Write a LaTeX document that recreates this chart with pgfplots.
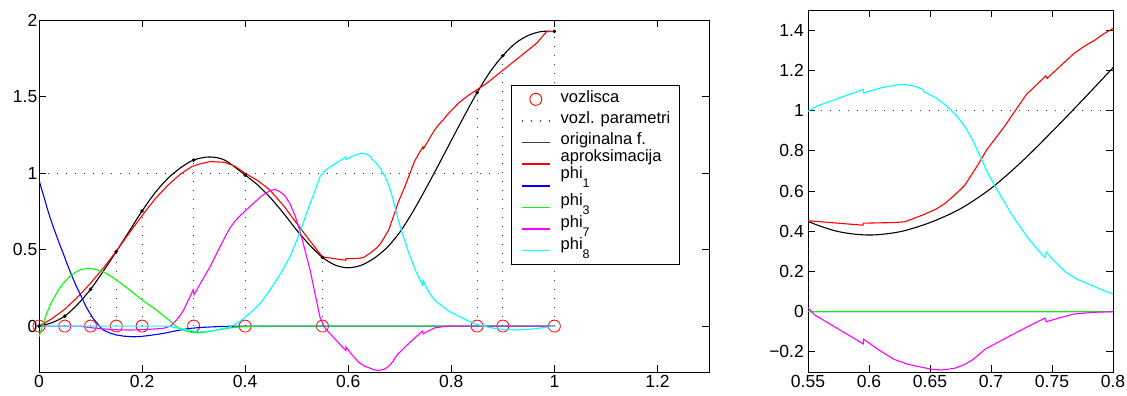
\documentclass[border=0pt]{standalone}
\usepackage{fontspec}
\setmainfont{Liberation Sans}
\usepackage{pgfplots}
\pgfplotsset{compat=1.18}
\usepackage{pgfplotstable}

\definecolor{mred}{rgb}{1,0,0}
\definecolor{mblue}{rgb}{0,0,1}
\definecolor{mgreen}{rgb}{0,1,0}
\definecolor{mmag}{rgb}{1,0,1}
\definecolor{mcyan}{rgb}{0,1,1}

\pgfplotstableread{
x y
0 0
0.025 0.022
0.05 0.065
0.075 0.142
0.1 0.24
0.125 0.36
0.15 0.487
0.175 0.62
0.2 0.752
0.225 0.87
0.25 0.965
0.275 1.035
0.3 1.085
0.33 1.105
0.36 1.085
0.4 0.987
0.425 0.92
0.45 0.835
0.475 0.735
0.5 0.627
0.525 0.53
0.55 0.449
0.575 0.398
0.6 0.381
0.625 0.397
0.65 0.443
0.675 0.512
0.7 0.613
0.725 0.745
0.75 0.895
0.775 1.052
0.8 1.213
0.825 1.372
0.85 1.525
0.875 1.66
0.9 1.767
0.925 1.85
0.95 1.9
0.975 1.925
1 1.925
}\origf

\pgfplotstableread{
x y
0 0
0.025 0.048
0.05 0.11
0.075 0.19
0.1 0.28
0.125 0.38
0.15 0.49
0.175 0.607
0.2 0.722
0.225 0.83
0.25 0.92
0.275 0.995
0.298 1.045
0.301 1.046
0.31 1.058
0.332 1.075
0.36 1.07
0.38 1.045
0.4 0.998
0.425 0.95
0.448 0.889
0.475 0.785
0.5 0.671
0.525 0.56
0.55 0.452
0.595 0.43
0.5955 0.44
0.62 0.443
0.6295 0.447
0.645 0.483
0.655 0.51
0.6623 0.538
0.668 0.568
0.6746 0.605
0.6787 0.63
0.691 0.747
0.6965 0.805
0.7101 0.913
0.729 1.08
0.7449 1.172
0.746 1.16
0.7673 1.28
0.776 1.318
0.785 1.35
0.792 1.38
0.8 1.408
0.815 1.46
0.83 1.50
0.85 1.545
0.8685 1.586
0.9007 1.673
0.933 1.76
0.9655 1.848
0.985 1.924
1 1.924
}\aprox

\pgfplotstableread{
x y
0 0.955
0.005 0.895
0.01 0.84
0.015 0.78
0.021 0.714
0.027 0.655
0.034 0.59
0.04 0.535
0.047 0.475
0.053 0.42
0.06 0.36
0.066 0.31
0.073 0.257
0.08 0.208
0.086 0.165
0.092 0.122
0.099 0.083
0.105 0.05
0.112 0.022
0.118 -0.004
0.125 -0.026
0.137 -0.045
0.15 -0.058
0.165 -0.066
0.183 -0.07
0.197 -0.068
0.21 -0.063
0.225 -0.056
0.241 -0.048
0.255 -0.038
0.27 -0.028
0.293 -0.015
0.31 -0.01
0.33 -0.006
0.35 -0.003
0.37 -0.001
0.4 0
1 0
}\phia

\pgfplotstableread{
x y
0 -0.07
0.005 -0.015
0.01 0.035
0.015 0.083
0.022 0.14
0.03 0.19
0.038 0.237
0.047 0.279
0.058 0.318
0.07 0.35
0.081 0.368
0.0925 0.377
0.101 0.376
0.11 0.37
0.12 0.36
0.131 0.344
0.143 0.318
0.155 0.29
0.1765 0.235
0.2 0.17
0.214 0.137
0.228 0.105
0.24 0.072
0.25 0.045
0.259 0.02
0.267 -0.005
0.275 -0.02
0.285 -0.032
0.295 -0.04
0.306 -0.044
0.315 -0.042
0.325 -0.038
0.345 -0.026
0.37 -0.012
0.396 -0.004
0.42 -0.001
0.45 0
1 0
}\phib

\pgfplotstableread{
x y
0 0
0.08 0
0.095 -0.008
0.112 -0.015
0.13 -0.02
0.15 -0.024
0.1765 -0.026
0.21 -0.022
0.241 -0.015
0.255 0.0
0.267 0.039
0.28 0.1
0.299 0.235
0.301 0.205
0.31 0.26
0.332 0.388
0.35 0.51
0.36 0.575
0.37 0.638
0.38 0.685
0.39 0.72
0.4 0.752
0.409 0.78
0.43 0.845
0.448 0.885
0.458 0.893
0.4675 0.878
0.477 0.852
0.487 0.8
0.497 0.72
0.506 0.627
0.526 0.366
0.545 0.061
0.5503 0.017
0.5557 -0.017
0.5953 -0.16
0.5955 -0.137
0.608 -0.19
0.6205 -0.237
0.632 -0.262
0.6445 -0.278
0.652 -0.287
0.6595 -0.29
0.67 -0.282
0.6787 -0.262
0.6855 -0.237
0.6951 -0.187
0.7156 -0.12
0.73 -0.075
0.7442 -0.032
0.7453 -0.05
0.7673 -0.012
0.785 -0.003
0.8 0
1 0
}\phic

\pgfplotstableread{
x y
0 0
0.25 0
0.28 -0.02
0.31 -0.038
0.34 -0.03
0.37 -0.005
0.39 0.03
0.409 0.083
0.43 0.15
0.448 0.235
0.47 0.35
0.487 0.453
0.505 0.6
0.519 0.737
0.535 0.88
0.545 0.976
0.5503 0.997
0.557 1.022
0.5953 1.105
0.5955 1.088
0.61 1.113
0.6254 1.13
0.635 1.125
0.6445 1.105
0.645 1.093
0.654 1.066
0.6623 1.03
0.671 0.98
0.6787 0.92
0.6855 0.847
0.6951 0.72
0.6955 0.71
0.7037 0.62
0.7173 0.48
0.731 0.36
0.7442 0.268
0.7453 0.297
0.752 0.25
0.7611 0.197
0.771 0.16
0.7829 0.13
0.791 0.108
0.8 0.088
0.817 0.061
0.833 0.033
0.85 0.01
0.875 -0.01
0.9 -0.022
0.925 -0.026
0.96 -0.018
1 0
}\phid

\pgfplotstableread{
x y
0 0
0.05 0
0.1 0
0.15 0
0.2 0
0.3 0
0.4 0
0.55 0
0.85 0
0.9 0
1 0
}\nodes

\pgfplotstableread{
x y
0 0
0.05 0.065
0.1 0.24
0.15 0.487
0.2 0.752
0.3 1.085
0.4 0.987
0.55 0.449
0.85 1.525
0.9 1.767
1 1.925
}\nodef

\pgfplotstableread{
x y
0.05 0
0.05 0.065
0.05 nan
0.1 0
0.1 0.24
0.1 nan
0.15 0
0.15 0.487
0.15 nan
0.2 0
0.2 0.752
0.2 nan
0.3 0
0.3 1.085
0.3 nan
0.4 0
0.4 0.987
0.4 nan
0.55 0
0.55 0.449
0.55 nan
0.85 0
0.85 1.525
0.85 nan
0.9 0
0.9 1.767
0.9 nan
1 0
1 1.925
1 nan
0 1
0.9 1
}\dotlines

\pgfplotsset{
  mystyle/.style={
    scale only axis,
    axis line style={line width=0.9pt},
    every tick/.style={black, line width=0.8pt},
    major tick length=7pt,
    tick align=inside,
    tick label style={font=\fontsize{17.5}{20}\selectfont},
    /pgf/number format/assume math mode=true,
    unbounded coords=jump,
  },
  curve/.style={line width=1.1pt},
  limg/.style={legend image code/.code={\draw[#1, line width=1.7pt] (0pt,0pt) -- (28pt,0pt);}},
  dotl/.style={black!75, line width=1pt, dash pattern=on 1pt off 8pt},
}
\newcommand{\lt}[2]{\raisebox{#1}[0pt][0pt]{#2}}
\newcommand{\sub}[1]{\raisebox{-9pt}{\fontsize{12.5}{12.5}\selectfont #1}}

\begin{document}
\begin{tikzpicture}
\useasboundingbox (0pt,0pt) rectangle (1127pt,396pt);

\begin{axis}[mystyle,
  at={(39pt,24pt)}, anchor=south west,
  width=670pt, height=352pt,
  xmin=0, xmax=1.3, ymin=-0.3, ymax=2,
  clip mode=individual,
  xtick={0,0.2,0.4,0.6,0.8,1,1.2},
  xticklabels={0,0.2,0.4,0.6,0.8,1,1.2},
  ytick={0,0.5,1,1.5,2},
  yticklabels={0,0.5,1,1.5,2},
  yticklabel style={inner xsep=1.5pt},
  legend cell align=left,
  legend style={at={(0.7045,0.815)}, anchor=north west, draw=black, line width=0.9pt,
    fill=white, font=\fontsize{16.5}{19}\selectfont, inner xsep=9.5pt, inner ysep=3pt,
    column sep=10pt, row sep=0pt,
    nodes={inner sep=0pt, text height=13.8pt, text depth=7.8pt}},
]
\addplot[only marks, mark=o, mred, mark size=6pt, mark options={line width=0.8pt},
  legend image code/.code={\draw[mred, line width=0.9pt] (14pt,0pt) circle[radius=6pt];}] table {\nodes};
\addlegendentry{vozlisca}
\addplot[dotl, legend image code/.code={\draw[black!75, line width=1.2pt, dash pattern=on 1.2pt off 7.8pt] (0pt,0pt) -- (28pt,0pt);}] table {\dotlines};
\addlegendentry{vozl. parametri}
\addplot[curve, black, smooth, limg=black!75] table {\origf};
\addlegendentry{\lt{1pt}{originalna f.}}
\addplot[curve, mred, limg=mred] table {\aprox};
\addlegendentry{\lt{6pt}{aproksimacija}}
\addplot[curve, mblue, limg=mblue] table {\phia};
\addlegendentry{\lt{10pt}{phi\sub{1}}}
\addplot[curve, mgreen, limg=mgreen] table {\phib};
\addlegendentry{\lt{5pt}{phi\sub{3}}}
\addplot[curve, mmag, limg=mmag] table {\phic};
\addlegendentry{\lt{4.5pt}{phi\sub{7}}}
\addplot[curve, mcyan, limg=mcyan] table {\phid};
\addlegendentry{\lt{4pt}{phi\sub{8}}}
\addplot[only marks, mark=*, black, mark size=1.6pt, forget plot] table {\nodef};
\end{axis}

\begin{axis}[mystyle,
  at={(808pt,24pt)}, anchor=south west,
  width=305pt, height=362pt,
  xmin=0.55, xmax=0.8, ymin=-0.3, ymax=1.5,
  xtick={0.55,0.6,0.65,0.7,0.75,0.8},
  xticklabels={0.55,0.6,0.65,0.7,0.75,0.8},
  ytick={-0.2,0,0.2,0.4,0.6,0.8,1,1.2,1.4},
  yticklabels={−0.2,0,0.2,0.4,0.6,0.8,1,1.2,1.4},
  yticklabel style={inner xsep=4pt},
]
\addplot[dotl] table {\dotlines};
\addplot[curve, black, smooth] table {\origf};
\addplot[curve, mred] table {\aprox};
\addplot[curve, mblue] table {\phia};
\addplot[curve, mgreen] table {\phib};
\addplot[curve, mmag] table {\phic};
\addplot[curve, mcyan] table {\phid};
\end{axis}
\end{tikzpicture}
\end{document}
